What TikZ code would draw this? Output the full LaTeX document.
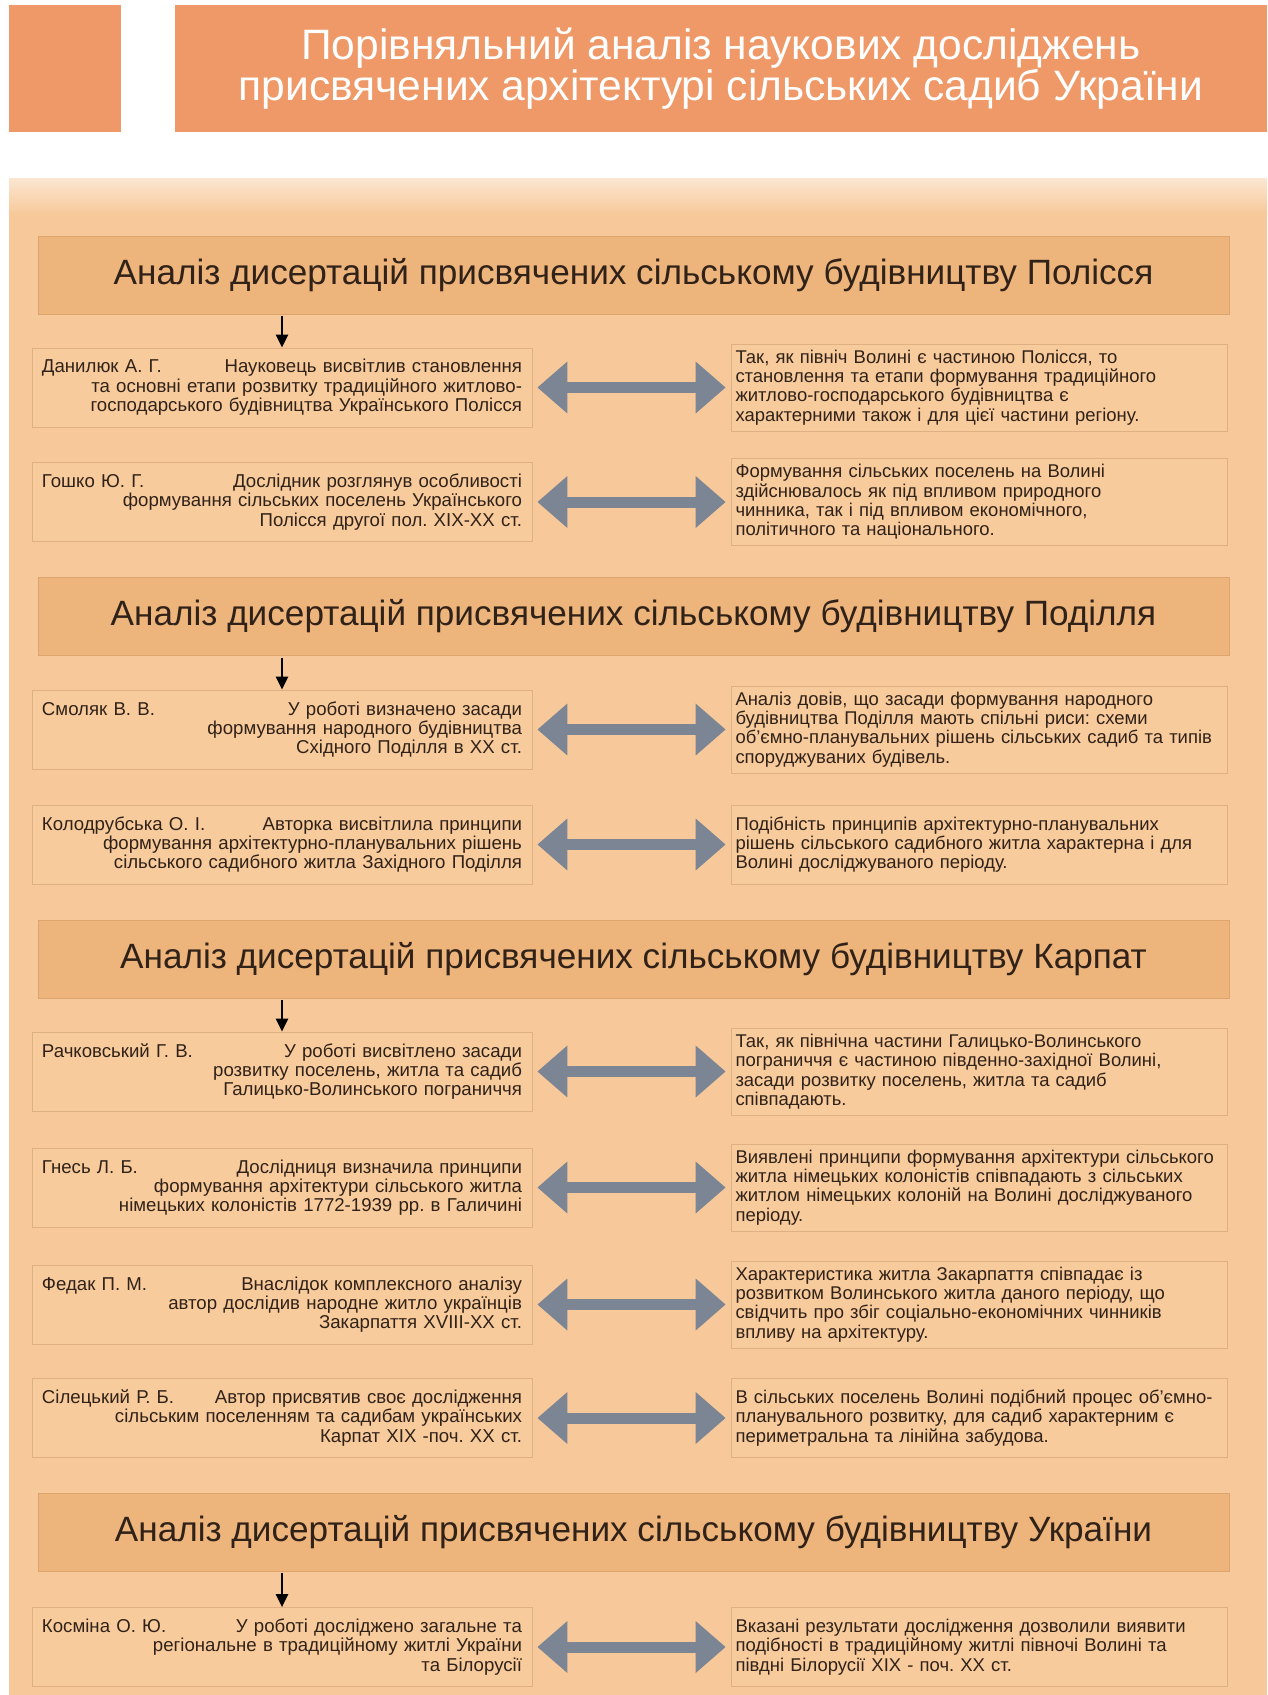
\documentclass[tikz,border=0pt]{standalone}
\usepackage{fontspec}
\setmainfont{Liberation Sans}
\usetikzlibrary{arrows.meta,positioning}
\definecolor{titlefill}{RGB}{239,153,104}
\definecolor{bodyfill}{RGB}{247,200,153}
\definecolor{hdrfill}{RGB}{237,180,124}
\definecolor{hdrline}{RGB}{222,164,110}
\definecolor{boxfill}{RGB}{248,203,157}
\definecolor{boxline}{RGB}{222,176,132}
\definecolor{arrgrey}{RGB}{124,133,148}
\definecolor{ink}{RGB}{48,34,24}
\frenchspacing

\begin{document}
\begin{tikzpicture}[
  x=0.2mm, y=-0.2mm,
  font=\fontsize{10.6}{11}\selectfont,
  titlebox/.style={rectangle, fill=titlefill, minimum width=218.4mm,
                   minimum height=25.4mm, align=center, text=white,
                   font=\fontsize{24.2}{23.6}\selectfont},
  hdr/.style={rectangle, fill=hdrfill, draw=hdrline, minimum width=238.2mm,
              minimum height=15.6mm, text=ink, font=\fontsize{20}{22}\selectfont},
  lbox/.style={rectangle, draw=boxline, fill=boxfill, text=ink,
               text width=96mm, inner xsep=2mm, minimum height=15.8mm,
               align=right},
  rbox/.style={rectangle, draw=boxline, fill=boxfill, text=ink,
               text width=97.4mm, inner xsep=0.9mm, minimum height=15.8mm,
               align=left, font=\fontsize{10.5}{11}\selectfont},
  link/.style={{Triangle[length=6mm,width=10mm]}-{Triangle[length=6mm,width=10mm]},
               line width=2.2mm, draw=arrgrey, shorten <=1mm, shorten >=1mm},
  down/.style={-{Triangle[length=2.6mm,width=2.4mm]}, line width=1.4pt, shorten <=0.4mm}
]
  \useasboundingbox (0,0) rectangle (1267,1695);
  % background
  \fill[titlefill] (9,5) rectangle (121,132);
  \fill[bodyfill] (9,178) rectangle (1267,1695);
  \shade[top color=white!55!bodyfill, bottom color=bodyfill] (9,178) rectangle (1267,215);
  \node[titlebox] (title) at (721,68.5)
    {Порівняльний аналіз наукових досліджень\\
     присвячених архітектурі сільських садиб України};

  % Полісся
  \node[hdr] (h1) at (633.5,275) {Аналіз дисертацій присвячених сільському будівництву Полісся};
  \node[lbox] (l1) at (282,387.5) {Данилюк А. Г.\hfill Науковець висвітлив становлення\\
    та основні етапи розвитку традиційного житлово-\\
    господарського будівництва Українського Полісся};
  \node[rbox] (r1) at (979,387.5) {Так, як північ Волині є частиною Полісся, то\\
    становлення та етапи формування традиційного\\
    житлово-господарського будівництва є\\
    характерними також і для цієї частини регіону.};
  \node[lbox] (l2) at (282,502) {Гошко Ю. Г.\hfill Дослідник розглянув особливості\\
    формування сільських поселень Українського\\
    Полісся другої пол. XIX-XX ст.};
  \node[rbox] (r2) at (979,502) {Формування сільських поселень на Волині\\
    здійснювалось як під впливом природного\\
    чинника, так і під впливом економічного,\\
    політичного та національного.};

  % Поділля
  \node[hdr] (h2) at (633.5,616.5) {Аналіз дисертацій присвячених сільському будівництву Поділля};
  \node[lbox] (l3) at (282,729.5) {Смоляк В. В.\hfill У роботі визначено засади\\
    формування народного будівництва\\
    Східного Поділля в XX ст.};
  \node[rbox] (r3) at (979,729.5) {Аналіз довів, що засади формування народного\\
    будівництва Поділля мають спільні риси: схеми\\
    об’ємно-планувальних рішень сільських садиб та типів\\
    споруджуваних будівель.};
  \node[lbox] (l4) at (282,844.5) {Колодрубська О. І.\hfill Авторка висвітлила принципи\\
    формування архітектурно-планувальних рішень\\
    сільського садибного житла Західного Поділля};
  \node[rbox] (r4) at (979,844.5) {Подібність принципів архітектурно-планувальних\\
    рішень сільського садибного житла характерна і для\\
    Волині досліджуваного періоду.};

  % Карпати
  \node[hdr] (h3) at (633.5,959) {Аналіз дисертацій присвячених сільському будівництву Карпат};
  \node[lbox] (l5) at (282,1071.5) {Рачковський Г. В.\hfill У роботі висвітлено засади\\
    розвитку поселень, житла та садиб\\
    Галицько-Волинського пограниччя};
  \node[rbox] (r5) at (979,1071.5) {Так, як північна частини Галицько-Волинського\\
    пограниччя є частиною південно-західної Волині,\\
    засади розвитку поселень, житла та садиб\\
    співпадають.};
  \node[lbox] (l6) at (282,1187.5) {Гнесь Л. Б.\hfill Дослідниця визначила принципи\\
    формування архітектури сільського житла\\
    німецьких колоністів 1772-1939 рр. в Галичині};
  \node[rbox] (r6) at (979,1187.5) {Виявлені принципи формування архітектури сільського\\
    житла німецьких колоністів співпадають з сільських\\
    житлом німецьких колоній на Волині досліджуваного\\
    періоду.};
  \node[lbox] (l7) at (282,1304.5) {Федак П. М.\hfill Внаслідок комплексного аналізу\\
    автор дослідив народне житло українців\\
    Закарпаття XVIII-XX ст.};
  \node[rbox] (r7) at (979,1304.5) {Характеристика житла Закарпаття співпадає із\\
    розвитком Волинського житла даного періоду, що\\
    свідчить про збіг соціально-економічних чинників\\
    впливу на архітектуру.};
  \node[lbox] (l8) at (282,1418) {Сілецький Р. Б.\hfill Автор присвятив своє дослідження\\
    сільським поселенням та садибам українських\\
    Карпат XIX -поч. XX ст.};
  \node[rbox] (r8) at (979,1418) {В сільських поселень Волині подібний процес об’ємно-\\
    планувального розвитку, для садиб характерним є\\
    периметральна та лінійна забудова.};

  % Україна
  \node[hdr] (h4) at (633.5,1532) {Аналіз дисертацій присвячених сільському будівництву України};
  \node[lbox] (l9) at (282,1647) {Косміна О. Ю.\hfill У роботі досліджено загальне та\\
    регіональне в традиційному житлі України\\
    та Білорусії};
  \node[rbox] (r9) at (979,1647) {Вказані результати дослідження дозволили виявити\\
    подібності в традиційному житлі півночі Волині та\\
    півдні Білорусії XIX - поч. XX ст.};

  % connectors
  \draw[down] (h1.south -| l1.north) -- (l1.north);
  \draw[down] (h2.south -| l3.north) -- (l3.north);
  \draw[down] (h3.south -| l5.north) -- (l5.north);
  \draw[down] (h4.south -| l9.north) -- (l9.north);
  \draw[link] (l1) -- (r1);
  \draw[link] (l2) -- (r2);
  \draw[link] (l3) -- (r3);
  \draw[link] (l4) -- (r4);
  \draw[link] (l5) -- (r5);
  \draw[link] (l6) -- (r6);
  \draw[link] (l7) -- (r7);
  \draw[link] (l8) -- (r8);
  \draw[link] (l9) -- (r9);
\end{tikzpicture}
\end{document}
